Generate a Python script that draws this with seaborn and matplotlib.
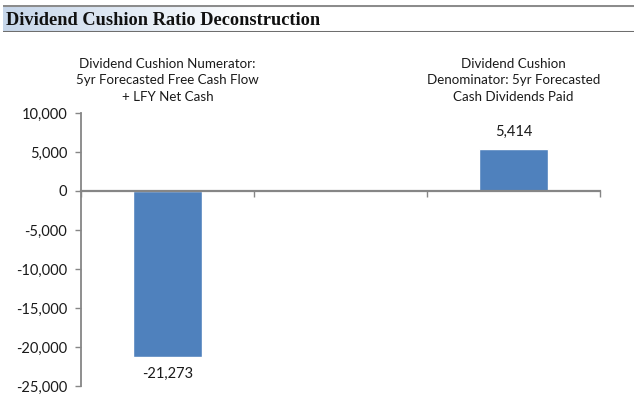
import matplotlib
matplotlib.use('Agg')
import matplotlib.pyplot as plt
import numpy as np
import pandas as pd
import seaborn as sns
from matplotlib.colors import LinearSegmentedColormap
from matplotlib.ticker import FuncFormatter, MultipleLocator, FixedLocator

# data
categories = [
    "Dividend Cushion Numerator:\n5yr Forecasted Free Cash Flow\n+ LFY Net Cash",
    " ",
    "Dividend Cushion\nDenominator: 5yr Forecasted\nCash Dividends Paid",
]
values = [-21273, np.nan, 5414]
title = "Dividend Cushion Ratio Deconstruction"

BAR_COLOR = "#4f81bd"
AXIS_GRAY = "#868686"

sns.set_style("white")
plt.rcParams['font.family'] = ['Lato', 'DejaVu Sans']

fig = plt.figure(figsize=(6.4, 3.99), dpi=100)

# title banner with light blue gradient
band = fig.add_axes([3 / 640, 1 - 32 / 399, 631 / 640, 27 / 399])
grad = np.linspace(0, 1, 256).reshape(1, -1)
cmap = LinearSegmentedColormap.from_list("band", [(0, "#c6d6ea"), (0.4, "#ffffff"), (1, "#ffffff")])
band.imshow(grad, aspect="auto", cmap=cmap, extent=[0, 1, 0, 1])
band.axhline(1, color="#8c8c8c", lw=2.2)
band.axhline(0, color="#6e6e6e", lw=2.2)
band.set_xlim(0, 1)
band.set_ylim(0, 1)
band.axis("off")
band.text(0.004, 0.42, title, family="Liberation Serif", fontweight="bold",
          fontsize=13.2, va="center", ha="left", color="#111111")

# main chart
ax = fig.add_axes([81 / 640, 1 - 386 / 399, 519 / 640, 273 / 399])
df = pd.DataFrame({"label": categories, "value": values})
sns.barplot(data=df, x="label", y="value", order=categories, color=BAR_COLOR,
            width=0.4, saturation=1, ax=ax)

for c in ax.containers:
    ax.bar_label(c, labels=[f"{v:,.0f}" for v in c.datavalues], padding=7,
                 fontsize=10.5, color="#1a1a1a")

ax.set_ylim(-25000, 10000)
ax.set_xlim(-0.5, len(categories) - 0.5)
ax.yaxis.set_major_locator(MultipleLocator(5000))
ax.yaxis.set_major_formatter(FuncFormatter(lambda v, p: f"{v:,.0f}"))
ax.set_xlabel("")
ax.set_ylabel("")

ax.spines["top"].set_visible(False)
ax.spines["right"].set_visible(False)
ax.spines["left"].set_color(AXIS_GRAY)
ax.spines["left"].set_linewidth(1.3)
ax.spines["bottom"].set_position(("data", 0))
ax.spines["bottom"].set_color(AXIS_GRAY)
ax.spines["bottom"].set_linewidth(1.6)

ax.tick_params(axis="y", left=True, direction="out", length=4, width=1,
               color=AXIS_GRAY, labelsize=10.5, labelcolor="#1a1a1a", pad=6)
# category labels above the plot
ax.tick_params(axis="x", which="major", bottom=False, top=False,
               labelbottom=False, labeltop=True, labelsize=9.6,
               labelcolor="#1a1a1a", pad=4)
# boundary ticks on the zero line
ax.xaxis.set_minor_locator(FixedLocator(np.arange(len(categories) + 1) - 0.5))
ax.tick_params(axis="x", which="minor", bottom=True, top=False, direction="out",
               length=4, width=1, color=AXIS_GRAY)
for t in ax.get_xticklabels():
    t.set_linespacing(1.45)

fig.savefig("out.png", dpi=100)
